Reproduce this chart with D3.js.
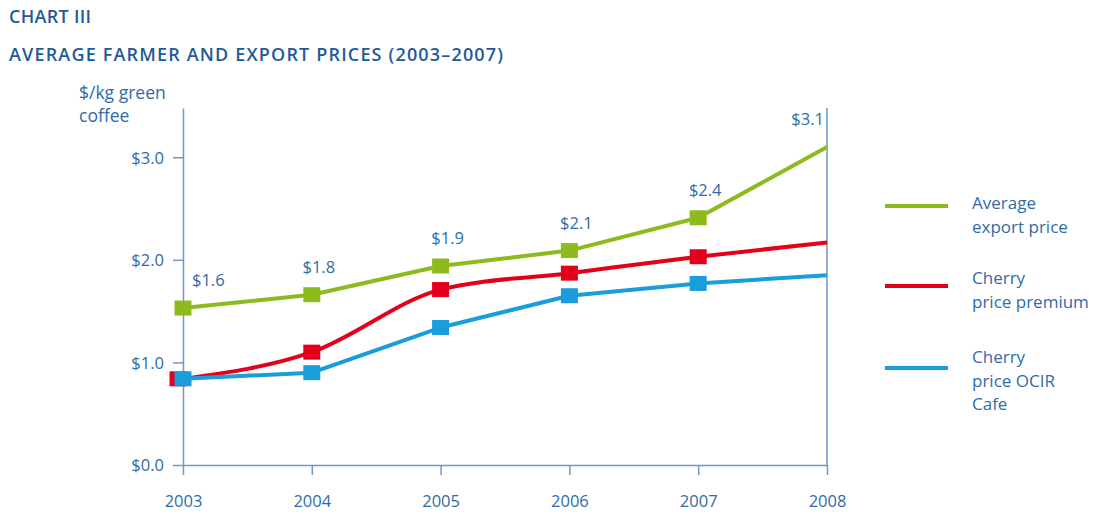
<!DOCTYPE html>
<html>
<head>
<meta charset="utf-8">
<script src="https://cdn.jsdelivr.net/npm/d3@7"></script>
<style>
  body { margin: 0; background: #fff; }
  svg text { font-family: "Open Sans", "Noto Sans", sans-serif; fill: #2f6ba8; }
</style>
</head>
<body>
<div id="chart"></div>
<script>
// data
const years = [2003, 2004, 2005, 2006, 2007, 2008];
const exportPrice = [1.53, 1.66, 1.94, 2.09, 2.41, 3.10];
const premiumPrice = [0.84, 1.10, 1.71, 1.87, 2.03, 2.17];
const ocirPrice = [0.84, 0.90, 1.34, 1.65, 1.77, 1.85];
const exportLabels = ["$1.6", "$1.8", "$1.9", "$2.1", "$2.4", "$3.1"];
const yTicks = [0, 1, 2, 3];
const seriesNames = [["Average", "export price"], ["Cherry", "price premium"], ["Cherry", "price OCIR", "Cafe"]];
const seriesColors = ["#8dbb1e", "#e2001a", "#1a9ddb"];

const width = 1093, height = 516;
const axisColor = "#6f98c4";

const svg = d3.select("#chart").append("svg")
  .attr("width", width)
  .attr("height", height);

// titles
svg.append("text").attr("x", 9).attr("y", 23)
  .style("font-size", "18px").style("font-weight", 600).style("fill", "#1f5b98")
  .style("letter-spacing", "0.3px")
  .text("CHART III");
svg.append("text").attr("x", 9).attr("y", 61)
  .style("font-size", "18px").style("font-weight", 600).style("fill", "#1f5b98")
  .attr("textLength", 494).attr("lengthAdjust", "spacing")
  .text("AVERAGE FARMER AND EXPORT PRICES (2003–2007)");

// scales
const x = d3.scaleLinear().domain([2003, 2008]).range([183, 827]);
const y = d3.scaleLinear().domain([0, 3.48]).range([465, 108]);

// y axis
const yAxis = svg.append("g").attr("transform", "translate(183,0)")
  .call(d3.axisLeft(y).tickValues(yTicks).tickFormat(d => "$" + d.toFixed(1)).tickSize(10).tickSizeOuter(0));
// x axis
const xAxis = svg.append("g").attr("transform", "translate(0,465)")
  .call(d3.axisBottom(x).tickValues(years).tickFormat(d3.format("d")).tickSize(10).tickSizeOuter(0));

[yAxis, xAxis].forEach(a => {
  a.select(".domain").attr("stroke", axisColor).attr("stroke-width", 1.5);
  a.selectAll(".tick line").attr("stroke", axisColor).attr("stroke-width", 1.5);
  a.selectAll(".tick text").style("font-size", "16.5px").attr("fill", "#2f6ba8")
    .style("font-family", "'Open Sans', 'Noto Sans', sans-serif");
});
yAxis.selectAll(".tick text").attr("x", -19).attr("dy", "0.35em");
xAxis.selectAll(".tick text").attr("y", 30);

// right vertical line at 2008
svg.append("line")
  .attr("x1", x(2008)).attr("x2", x(2008))
  .attr("y1", y(0)).attr("y2", y(3.48))
  .attr("stroke", axisColor).attr("stroke-width", 1.5);

// unit label
svg.append("text").attr("x", 79).attr("y", 99).style("font-size", "17.5px").text("$/kg green");
svg.append("text").attr("x", 79).attr("y", 122).style("font-size", "17.5px").text("coffee");

const curves = [d3.curveLinear, d3.curveMonotoneX, d3.curveLinear];

const series = [exportPrice, premiumPrice, ocirPrice].map((vals, i) => ({
  color: seriesColors[i],
  names: seriesNames[i],
  curve: curves[i],
  values: years.map((yr, j) => ({ year: yr, value: vals[j] }))
}));

series.forEach(s => {
  const line = d3.line()
    .x(d => x(d.year))
    .y(d => y(d.value))
    .curve(s.curve);
  svg.append("path")
    .attr("d", line(s.values))
    .attr("fill", "none")
    .attr("stroke", s.color)
    .attr("stroke-width", 4)
    .attr("stroke-linejoin", "round");
});
const mw = 17, mh = 15;
series.forEach((s, i) => {
  svg.selectAll(null)
    .data(s.values.slice(0, 5))
    .join("rect")
      .attr("x", d => x(d.year) - mw / 2 - (i === 1 && d.year === 2003 ? 5 : 0))
      .attr("y", d => y(d.value) - mh / 2)
      .attr("width", mw)
      .attr("height", mh)
      .attr("fill", s.color);
});

// value labels on the export line
svg.selectAll(".vlabel")
  .data(series[0].values)
  .join("text")
    .attr("class", "vlabel")
    .attr("x", (d, i) => i === 0 ? x(d.year) + 9 : i === 5 ? x(d.year) - 3 : x(d.year) + 7)
    .attr("y", d => y(d.value) - 22)
    .attr("text-anchor", (d, i) => i === 0 ? "start" : i === 5 ? "end" : "middle")
    .style("font-size", "16.5px")
    .text((d, i) => exportLabels[i]);

// legend
const legendY = [206, 286, 368];
const legendTextY = [209, 284, 363];
series.forEach((s, i) => {
  const g = svg.append("g");
  g.append("line").attr("x1", 885).attr("x2", 948)
    .attr("y1", legendY[i]).attr("y2", legendY[i])
    .attr("stroke", s.color).attr("stroke-width", 4);
  s.names.forEach((n, k) => {
    g.append("text").attr("x", 972).attr("y", legendTextY[i] + k * 23.5)
      .style("font-size", "17px").text(n);
  });
});
</script>
</body>
</html>
